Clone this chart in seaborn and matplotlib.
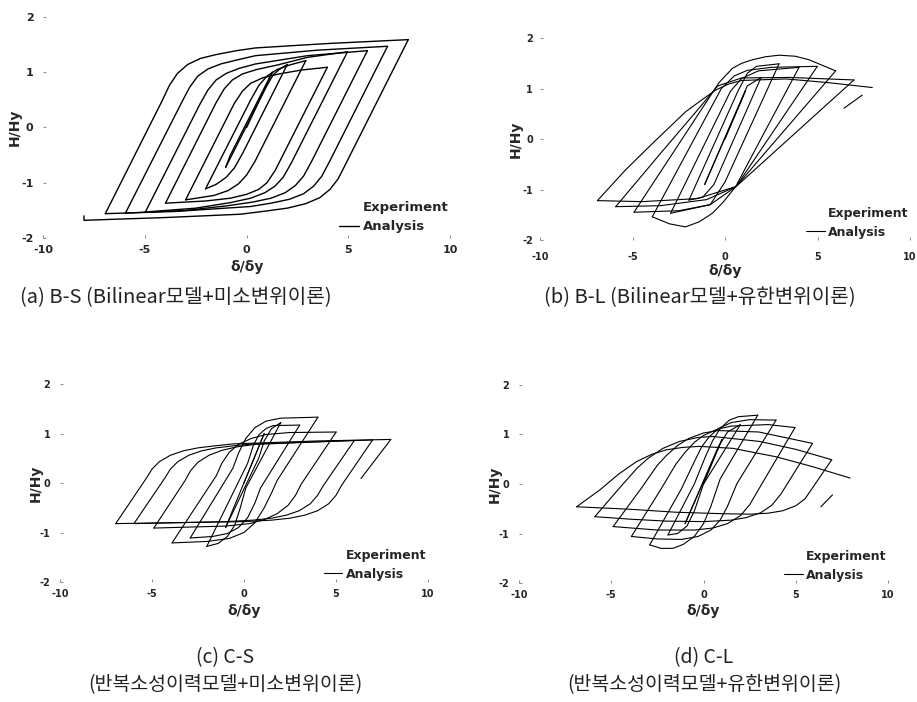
import pandas as pd
import seaborn as sns
import matplotlib.pyplot as plt
from matplotlib.lines import Line2D

# ---------------- (a) B-S : analysis branches (x = d/dy, y = H/Hy) ----------------
a_x = [
    [0.0, 1.26],
    [1.26, -0.8, -1.03],
    [-1.03, 1.0, 1.3, 1.6, 2.0],
    [2.0, -0.2, -0.6, -1.0, -1.5, -2.02],
    [-2.02, 0.2, 0.6, 1.0, 1.5, 2.1, 2.91],
    [2.91, 0.4, 0.0, -0.4, -0.9, -1.6, -3.0],
    [-3.0, -0.6, -0.2, 0.2, 0.8, 1.6, 2.7, 3.97],
    [3.97, 1.4, 1.0, 0.6, 0.0, -0.8, -2.0, -3.99],
    [-3.99, -1.5, -1.1, -0.7, -0.2, 0.5, 1.5, 3.0, 4.96],
    [4.96, 2.2, 1.8, 1.4, 0.9, 0.2, -0.8, -2.5, -4.98],
    [-4.98, -2.3, -1.9, -1.5, -1.0, -0.37, 0.44, 3.0, 5.94],
    [5.94, 3.2, 2.8, 2.4, 1.9, 1.2, 0.3, -1.0, -3.0, -5.96],
    [-5.96, -3.2, -2.8, -2.4, -1.9, -1.27, -0.5, 0.44, 3.5, 6.93],
    [6.93, 4.1, 3.7, 3.3, 2.8, 2.1, 1.2, 0.2, -3.5, -6.95],
    [-6.95, -4.2, -3.8, -3.4, -2.9, -2.27, -1.5, -0.5, 0.44, 4.0, 7.95],
    [7.95, 4.9, 4.5, 4.1, 3.6, 2.9, 2.0, 1.0, -0.3, -4.0, -8.0, -8.0],
]
a_y = [
    [0.0, 1.0],
    [1.0, -0.5, -0.72],
    [-0.72, 0.76, 0.95, 1.05, 1.14],
    [1.14, -0.47, -0.73, -0.9, -1.03, -1.11],
    [-1.11, 0.50, 0.76, 0.93, 1.05, 1.13, 1.21],
    [1.21, -0.62, -0.86, -1.02, -1.14, -1.23, -1.31],
    [-1.31, 0.44, 0.66, 0.80, 0.90, 0.97, 1.04, 1.09],
    [1.09, -0.78, -1.0, -1.12, -1.21, -1.28, -1.33, -1.37],
    [-1.37, 0.45, 0.70, 0.86, 0.97, 1.05, 1.13, 1.27, 1.37],
    [1.37, -0.64, -0.90, -1.06, -1.18, -1.28, -1.36, -1.46, -1.53],
    [-1.53, 0.42, 0.68, 0.86, 0.98, 1.07, 1.15, 1.30, 1.39],
    [1.39, -0.61, -0.88, -1.05, -1.18, -1.28, -1.35, -1.42, -1.50, -1.55],
    [-1.55, 0.45, 0.73, 0.93, 1.06, 1.15, 1.22, 1.30, 1.40, 1.47],
    [1.47, -0.60, -0.88, -1.06, -1.20, -1.30, -1.37, -1.43, -1.52, -1.56],
    [-1.56, 0.45, 0.76, 0.98, 1.14, 1.25, 1.32, 1.39, 1.44, 1.52, 1.59],
    [1.59, -0.64, -0.93, -1.12, -1.27, -1.38, -1.46, -1.51, -1.57, -1.63, -1.68, -1.6],
]

# ---------------- (b) B-L ----------------
b_x = [
    [0.0, 1.1],
    [1.1, -1.1],
    [-1.1, 1.2, 1.95],
    [1.95, -0.6, -1.2, -1.95],
    [-1.95, 0.7, 1.2, 1.7, 2.92],
    [2.92, 0.0, -0.8, -2.94],
    [-2.94, 0.3, 0.9, 1.8, 4.0],
    [4.0, 1.4, 0.58, -0.1, -0.68, -1.4, -2.13, -3.0, -3.93],
    [-3.93, -1.8, -0.2, 0.5, 1.2, 2.5, 4.99],
    [4.99, 2.0, 0.6, -0.8, -2.5, -4.92],
    [-4.92, -2.5, -1.0, -0.32, 0.4, 0.9, 1.48, 2.2, 2.92, 3.8, 4.54, 5.98],
    [5.98, 2.5, 0.6, -1.0, -3.5, -5.91],
    [-5.91, -3.5, -1.5, -0.4, 0.9, 3.5, 6.97],
    [6.97, 3.5, 0.6, -1.5, -4.5, -6.9],
    [-6.9, -5.4, -3.93, -2.13, -1.2, -0.5, 0.2, 0.9, 3.3, 5.5, 7.96],
    [7.42, 6.43],
]
b_y = [
    [0.0, 0.95],
    [0.95, -0.9],
    [-0.9, 1.05, 1.22],
    [1.22, -0.9, -1.15, -1.21],
    [-1.21, 0.95, 1.3, 1.44, 1.49],
    [1.49, -0.85, -1.3, -1.47],
    [-1.47, 0.95, 1.2, 1.35, 1.42],
    [1.42, -0.37, -0.94, -1.25, -1.47, -1.64, -1.74, -1.68, -1.54],
    [-1.54, -0.09, 1.0, 1.25, 1.36, 1.42, 1.44],
    [1.44, -0.18, -0.94, -1.3, -1.42, -1.45],
    [-1.45, -0.10, 0.74, 1.12, 1.40, 1.50, 1.57, 1.63, 1.66, 1.64, 1.57, 1.35],
    [1.35, -0.13, -0.94, -1.2, -1.32, -1.34],
    [-1.34, -0.29, 0.57, 1.05, 1.21, 1.22, 1.17],
    [1.17, 0.02, -0.94, -1.18, -1.24, -1.22],
    [-1.22, -0.62, -0.09, 0.54, 0.79, 0.97, 1.09, 1.16, 1.19, 1.12, 1.02],
    [0.87, 0.61],
]

# ---------------- (c) C-S ----------------
c_x = [
    [0.0, 1.1],
    [1.1, -1.0],
    [-1.0, 0.8, 1.1, 1.5, 2.0],
    [2.0, 0.1, -0.2, -0.5, -0.9, -1.4, -2.02],
    [-2.02, 0.2, 0.5, 0.8, 1.2, 1.59, 3.03],
    [3.03, 0.9, 0.6, 0.2, -0.3, -0.9, -1.7, -2.92],
    [-2.92, -0.6, -0.3, 0.1, 0.6, 1.2, 2.0, 4.02],
    [4.02, 1.8, 1.5, 1.1, 0.6, 0.0, -0.8, -2.0, -3.91],
    [-3.91, -1.5, -1.2, -0.8, -0.3, 0.4, 1.2, 2.5, 5.01],
    [5.01, 3.1, 2.8, 2.4, 1.8, 1.1, 0.3, -1.0, -4.9],
    [-4.9, -3.2, -2.9, -2.5, -1.9, -1.2, -0.4, 0.6, 6.0],
    [6.0, 4.3, 4.0, 3.6, 3.0, 2.3, 1.5, 0.5, -1.0, -5.98],
    [-5.98, -4.3, -4.0, -3.6, -3.0, -2.3, -1.5, -0.6, 0.5, 6.99],
    [6.99, 5.3, 5.0, 4.6, 4.0, 3.3, 2.5, 1.5, 0.0, -6.97],
    [-6.97, -5.3, -5.0, -4.6, -4.0, -3.3, -2.5, -1.6, -0.58, 4.0, 7.98],
    [7.98, 6.36],
]
c_y = [
    [0.0, 1.0],
    [1.0, -0.9],
    [-0.9, 0.5, 0.85, 1.1, 1.22],
    [1.22, -0.1, -0.5, -0.85, -1.08, -1.22, -1.28],
    [-1.28, 0.4, 0.75, 0.97, 1.1, 1.16, 1.17],
    [1.17, -0.1, -0.4, -0.7, -0.9, -1.02, -1.08, -1.11],
    [-1.11, 0.3, 0.6, 0.9, 1.12, 1.25, 1.31, 1.33],
    [1.33, 0.05, -0.2, -0.5, -0.8, -1.0, -1.12, -1.18, -1.21],
    [-1.21, 0.15, 0.4, 0.62, 0.78, 0.9, 0.98, 1.02, 1.03],
    [1.03, -0.03, -0.25, -0.45, -0.62, -0.74, -0.82, -0.87, -0.91],
    [-0.91, 0.05, 0.25, 0.42, 0.56, 0.66, 0.73, 0.78, 0.86],
    [0.86, -0.06, -0.25, -0.42, -0.56, -0.65, -0.71, -0.75, -0.78, -0.82],
    [-0.82, 0.10, 0.28, 0.43, 0.56, 0.65, 0.71, 0.75, 0.79, 0.87],
    [0.87, -0.05, -0.25, -0.42, -0.56, -0.65, -0.71, -0.75, -0.78, -0.82],
    [-0.82, 0.10, 0.28, 0.43, 0.56, 0.65, 0.71, 0.75, 0.79, 0.85, 0.88],
    [0.88, 0.09],
]

# ---------------- (d) C-L ----------------
d_x = [
    [0.0, 1.0],
    [1.0, -1.0],
    [-1.0, 0.8, 1.3, 2.0],
    [2.0, 0.0, -0.5, -0.9, -1.4, -1.93],
    [-1.93, -0.5, 0.1, 0.5, 0.9, 1.4, 1.9, 2.94],
    [2.94, 0.9, 0.4, 0.0, -0.5, -1.1, -1.66, -2.3, -2.92],
    [-2.92, -1.2, -0.5, -0.1, 0.3, 0.8, 1.5, 2.5, 3.93],
    [3.93, 1.8, 1.3, 0.9, 0.4, -0.3, -1.2, -2.5, -3.91],
    [-3.91, -2.3, -1.5, -1.0, -0.5, 0.0, 0.7, 1.5, 3.5, 4.96],
    [4.96, 3.0, 2.5, 2.0, 1.3, 0.5, -0.5, -2.5, -4.9],
    [-4.9, -3.4, -2.5, -2.0, -1.4, -0.8, 0.0, 0.8, 3.0, 5.91],
    [5.91, 4.2, 3.7, 3.1, 2.3, 1.5, 0.0, -2.0, -4.0, -5.89],
    [-5.89, -4.6, -3.6, -3.0, -2.2, -1.3, -0.3, 0.5, 3.03, 5.0, 6.95],
    [6.95, 5.5, 5.0, 4.3, 3.5, 2.5, 1.0, -1.5, -4.0, -6.88],
    [-6.88, -5.62, -4.6, -3.64, -2.8, -2.02, -1.1, -0.22, 1.59, 3.93, 5.91, 7.94],
    [6.99, 6.36],
]
d_y = [
    [0.0, 0.9],
    [0.9, -0.8],
    [-0.8, 0.75, 1.05, 1.2],
    [1.2, 0.0, -0.55, -0.85, -1.0, -1.03],
    [-1.03, 0.0, 0.55, 0.88, 1.12, 1.29, 1.36, 1.39],
    [1.39, 0.1, -0.45, -0.8, -1.06, -1.22, -1.3, -1.3, -1.23],
    [-1.23, -0.1, 0.45, 0.75, 0.95, 1.12, 1.24, 1.3, 1.29],
    [1.29, 0.0, -0.45, -0.73, -0.93, -1.06, -1.12, -1.11, -1.06],
    [-1.06, -0.1, 0.4, 0.64, 0.84, 0.98, 1.1, 1.17, 1.2, 1.14],
    [1.14, -0.1, -0.42, -0.64, -0.8, -0.89, -0.93, -0.93, -0.86],
    [-0.86, -0.1, 0.38, 0.58, 0.78, 0.92, 1.03, 1.08, 1.05, 0.82],
    [0.82, -0.2, -0.43, -0.58, -0.68, -0.73, -0.76, -0.75, -0.71, -0.66],
    [-0.66, -0.1, 0.32, 0.52, 0.72, 0.86, 0.94, 0.96, 0.86, 0.7, 0.49],
    [0.49, -0.3, -0.44, -0.54, -0.59, -0.61, -0.6, -0.57, -0.51, -0.46],
    [-0.46, -0.12, 0.2, 0.45, 0.6, 0.69, 0.74, 0.76, 0.72, 0.55, 0.35, 0.12],
    [-0.22, -0.46],
]

captions = [
    "(a) B-S (Bilinear모델+미소변위이론)",
    "(b) B-L (Bilinear모델+유한변위이론)",
    "(c) C-S\n(반복소성이력모델+미소변위이론)",
    "(d) C-L\n(반복소성이력모델+유한변위이론)",
]
x_ticks = [-10, -5, 0, 5, 10]
y_ticks = [2, 1, 0, -1, -2]


def to_frame(xs, ys):
    rows = []
    for i, (bx, by) in enumerate(zip(xs, ys)):
        for j, (x, y) in enumerate(zip(bx, by)):
            rows.append((i, j, x, y))
    return pd.DataFrame(rows, columns=["branch", "step", "x", "y"])


sns.set_theme(style="white")
plt.rcParams["font.family"] = ["DejaVu Sans"]
plt.rcParams["axes.unicode_minus"] = False

fig = plt.figure(figsize=(9.17, 7.02), dpi=100)

# axes box, tick size, line width, label offsets, legend anchor, legend size, x pad, y pad
setup = [
    (a_x, a_y, [0.0472, 0.6610, 0.4435, 0.3148], 8, 1.0, (-0.054, -0.100), (1.0, 0.015), 9.5, 5, 7),
    (b_x, b_y, [0.5889, 0.6581, 0.4035, 0.2877], 7, 0.8, (-0.046, -0.119), (1.0, 0.0), 9, 8.5, 5),
    (c_x, c_y, [0.0654, 0.1709, 0.4013, 0.2821], 7, 0.8, (-0.046, -0.111), (1.0, 0.0), 9, 5, 7),
    (d_x, d_y, [0.5660, 0.1695, 0.4024, 0.2821], 7, 0.8, (-0.046, -0.106), (1.0, 0.0), 9, 5, 7),
]

for xs, ys, rect, tsize, lw, lab, anchor, lsize, xpad, ypad in setup:
    ax = fig.add_axes(rect)
    df = to_frame(xs, ys)
    sns.lineplot(data=df, x="x", y="y", units="branch", estimator=None,
                 sort=False, color="black", linewidth=lw, ax=ax, legend=False)
    ax.set_xlim(-10, 10)
    ax.set_ylim(-2, 2)
    ax.set_xticks(x_ticks)
    ax.set_yticks(y_ticks)
    ax.set_xticklabels([str(t) for t in x_ticks], fontsize=tsize, fontweight="bold")
    ax.set_yticklabels([str(t) for t in y_ticks], fontsize=tsize, fontweight="bold")
    ax.tick_params(axis="both", direction="in", length=2.5, width=0.7,
                   color="0.55", left=True, bottom=True)
    ax.tick_params(axis="x", pad=xpad)
    ax.tick_params(axis="y", pad=ypad)
    for s in ax.spines.values():
        s.set_visible(False)
    ax.set_xlabel("δ/δy", fontsize=10, fontweight="bold")
    ax.set_ylabel("H/Hy", fontsize=10, fontweight="bold")
    ax.xaxis.set_label_coords(0.5, lab[1])
    ax.yaxis.set_label_coords(lab[0], 0.5)
    handles = [Line2D([], [], color="none", label="Experiment"),
               Line2D([], [], color="black", lw=lw, label="Analysis")]
    ax.legend(handles=handles, loc="lower right", bbox_to_anchor=anchor,
              frameon=False, prop={"weight": "bold", "size": lsize},
              handlelength=1.5, handletextpad=0.3, labelspacing=0.5,
              borderpad=0.1, borderaxespad=0.0)

cap_font = ["Noto Sans CJK KR", "DejaVu Sans"]
cap_kw = dict(ha="center", va="center", family=cap_font, color="#222222",
              fontweight="light")
fig.text(176 / 917, 1 - 298 / 702, captions[0], fontsize=14.5, **cap_kw)
fig.text(700 / 917, 1 - 298 / 702, captions[1], fontsize=14.5, **cap_kw)
fig.text(225 / 917, 1 - 671 / 702, captions[2], fontsize=14, linespacing=1.4, **cap_kw)
fig.text(704 / 917, 1 - 671 / 702, captions[3], fontsize=14, linespacing=1.4, **cap_kw)

fig.savefig("out.png", dpi=100)
